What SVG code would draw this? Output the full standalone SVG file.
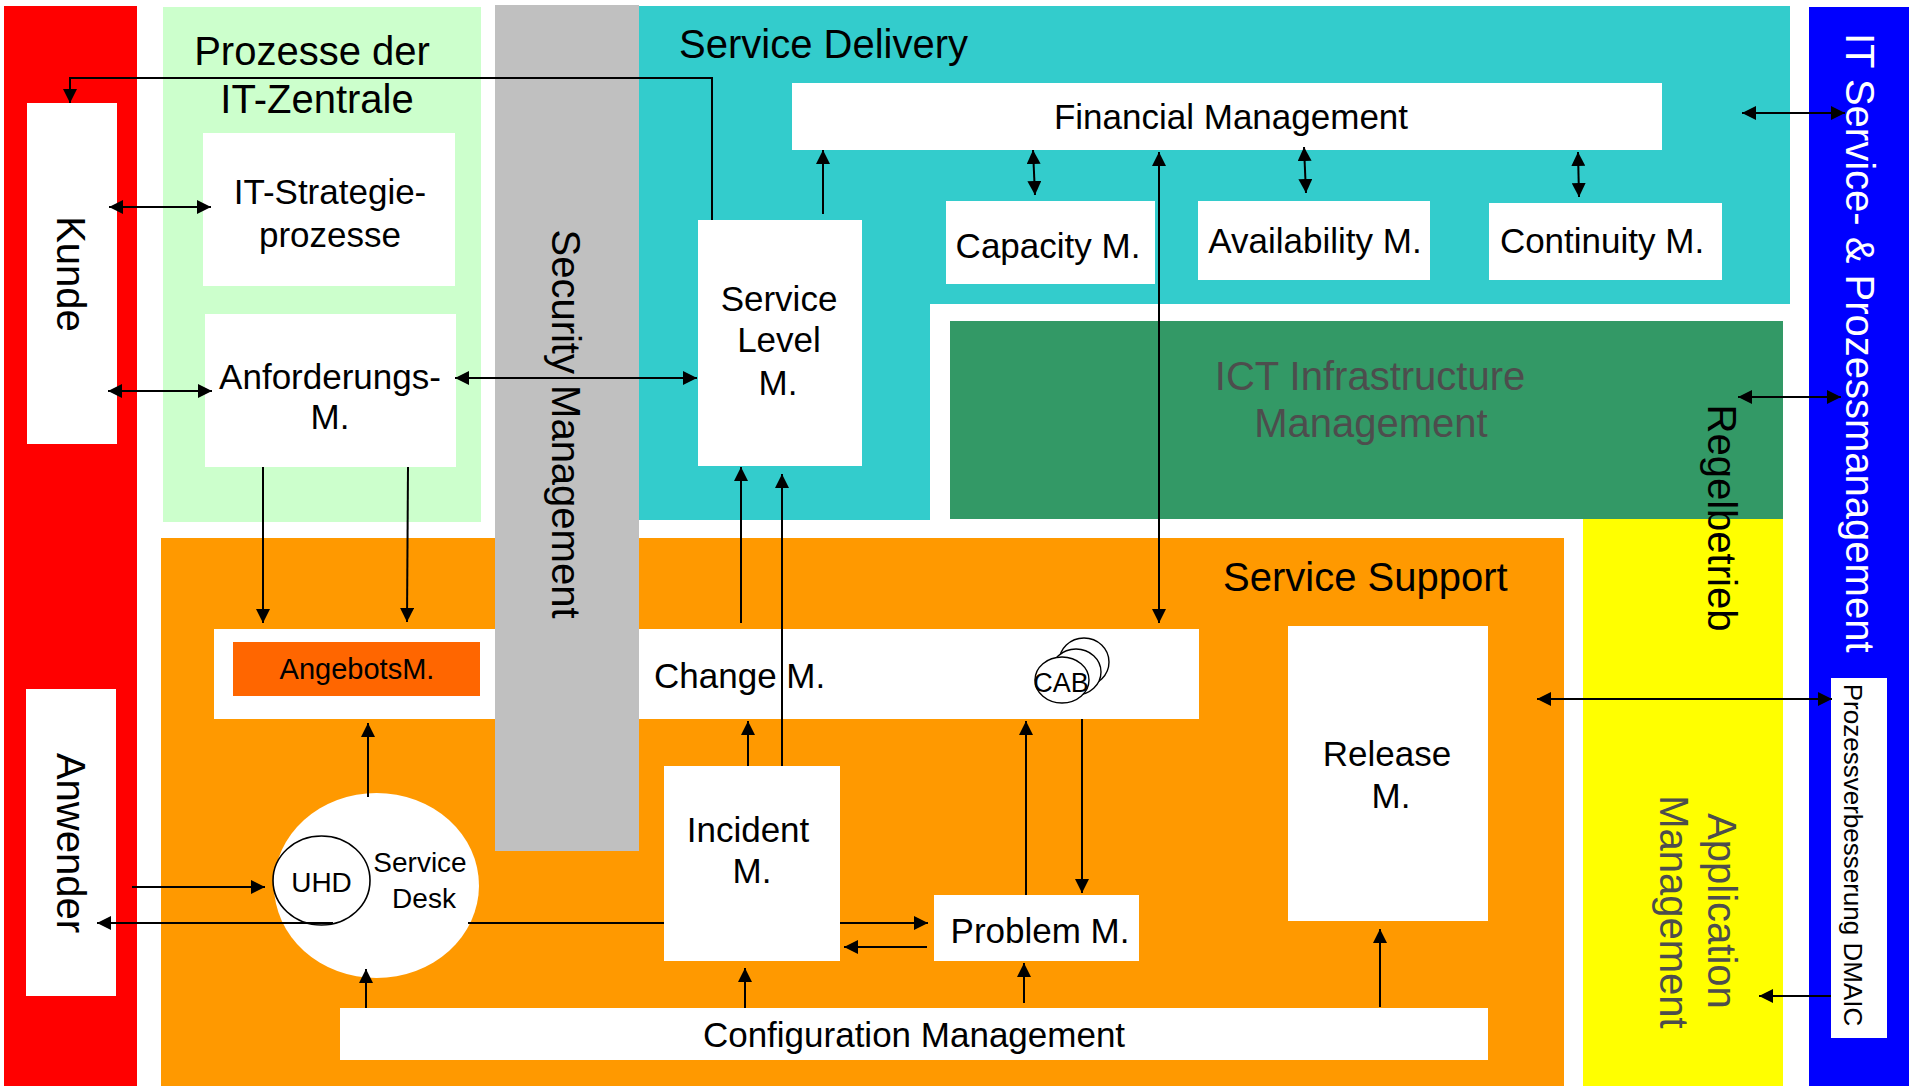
<svg xmlns="http://www.w3.org/2000/svg" width="1909" height="1086" viewBox="0 0 1909 1086">
<style>
text{font-family:"Liberation Sans",Arial,sans-serif;fill:#000}
.h{font-size:40px}
.n{font-size:35px}
.m{text-anchor:middle}
.w{fill:#fff}
.g{fill:#4D4D4D}
.box{fill:#fff}
.c line,.c polyline{stroke:#000;stroke-width:2;fill:none}
.e{marker-end:url(#ah)}
.b{marker-start:url(#ah);marker-end:url(#ah)}
.ring{fill:#fff;stroke:#000;stroke-width:1.4}
</style>
<defs>
<marker id="ah" viewBox="0 0 14 14" refX="14" refY="7" markerWidth="14" markerHeight="14" markerUnits="userSpaceOnUse" orient="auto-start-reverse"><path d="M0,0 L14,7 L0,14 z" fill="#000"/></marker>
</defs>
<rect width="1909" height="1086" fill="#fff"/>
<g id="panel-red"><rect x="4" y="6" width="133" height="1080" fill="#FF0000"/></g>
<g id="panel-it-zentrale"><rect x="163" y="7" width="318" height="515" fill="#CCFFCC"/>
<text class="h m" x="312" y="65">Prozesse der</text><text class="h m" x="317" y="113">IT-Zentrale</text></g>
<g id="panel-service-delivery"><polygon points="639,6 1790,6 1790,304 930,304 930,520 639,520" fill="#33CCCC"/>
<text class="h" x="679" y="58">Service Delivery</text></g>
<g id="panel-service-support"><rect x="161" y="538" width="1403" height="548" fill="#FF9900"/>
<text class="h" x="1223" y="591">Service Support</text></g>
<g id="panel-ict"><rect x="950" y="321" width="833" height="198" fill="#339966"/>
<text class="h m g" x="1370" y="390">ICT Infrastructure</text><text class="h m g" x="1371" y="437">Management</text></g>
<g id="panel-application"><rect x="1583" y="519" width="200" height="567" fill="#FFFF00"/>
<text class="h m g" transform="rotate(90 1708 911)" x="1708" y="911">Application</text>
<text class="h m g" transform="rotate(90 1660 912)" x="1660" y="912">Management</text></g>
<g id="label-regelbetrieb"><text class="h m" transform="rotate(90 1708 518)" x="1708" y="518">Regelbetrieb</text></g>
<g id="panel-itsm"><rect x="1809" y="7" width="100" height="1079" fill="#0000FF"/>
<text class="h w" transform="rotate(90 1846 33)" x="1846" y="33">IT Service- &amp; Prozessmanagement</text></g>
<g id="node-kunde"><rect class="box" x="27" y="103" width="90" height="341"/>
<text class="h m" transform="rotate(90 57 274)" x="57" y="274">Kunde</text></g>
<g id="node-anwender"><rect class="box" x="26" y="689" width="90" height="307"/>
<text class="h m" transform="rotate(90 57 843)" x="57" y="843">Anwender</text></g>
<g id="node-it-strategie"><rect class="box" x="203" y="133" width="252" height="153"/>
<text class="n m" x="330" y="204">IT-Strategie-</text><text class="n m" x="330" y="247">prozesse</text></g>
<g id="node-anforderungs"><rect class="box" x="205" y="314" width="251" height="153"/>
<text class="n m" x="330" y="389">Anforderungs-</text><text class="n m" x="330" y="429">M.</text></g>
<g id="node-financial"><rect class="box" x="792" y="83" width="870" height="67"/>
<text class="n m" x="1231" y="129">Financial Management</text></g>
<g id="node-service-level"><rect class="box" x="698" y="220" width="164" height="246"/>
<text class="n m" x="779" y="311">Service</text><text class="n m" x="779" y="352">Level</text><text class="n m" x="778" y="395">M.</text></g>
<g id="node-capacity"><rect class="box" x="946" y="201" width="209" height="83"/>
<text class="n m" x="1048" y="258">Capacity M.</text></g>
<g id="node-availability"><rect class="box" x="1198" y="201" width="232" height="79"/>
<text class="n m" x="1315" y="253">Availability M.</text></g>
<g id="node-continuity"><rect class="box" x="1489" y="203" width="233" height="77"/>
<text class="n m" x="1602" y="253">Continuity M.</text></g>
<g id="node-change"><rect class="box" x="214" y="629" width="985" height="90"/>
<text class="n" x="654" y="688">Change M.</text>
<ellipse class="ring" cx="1084" cy="662" rx="25" ry="24"/>
<ellipse class="ring" cx="1076" cy="672" rx="25" ry="23"/>
<ellipse class="ring" cx="1062" cy="680" rx="27" ry="23"/>
<text class="m" style="font-size:27px" x="1061" y="692">CAB</text></g>
<g id="node-angebots"><rect x="233" y="642" width="247" height="54" fill="#FF6600"/>
<text class="m" style="font-size:29px" x="357" y="679">AngebotsM.</text></g>
<g id="panel-security"><rect x="495" y="5" width="144" height="846" fill="#C0C0C0"/>
<text class="h m" transform="rotate(90 552 424)" x="552" y="424">Security Management</text></g>
<g id="node-service-desk"><ellipse cx="376.5" cy="885.5" rx="102.5" ry="92.5" fill="#fff"/>
<ellipse cx="321.5" cy="880.5" rx="48.5" ry="44.5" fill="#fff" stroke="#000" stroke-width="1.6"/>
<text class="m" style="font-size:28px" x="321.5" y="892">UHD</text>
<text class="m" style="font-size:28px" x="420" y="872">Service</text>
<text class="m" style="font-size:28px" x="424" y="908">Desk</text></g>
<g id="node-incident"><rect class="box" x="664" y="766" width="176" height="195"/>
<text class="n m" x="748" y="842">Incident</text><text class="n m" x="752" y="883">M.</text></g>
<g id="node-problem"><rect class="box" x="934" y="895" width="205" height="66"/>
<text class="n m" x="1040" y="943">Problem M.</text></g>
<g id="node-release"><rect class="box" x="1288" y="626" width="200" height="295"/>
<text class="n m" x="1387" y="766">Release</text><text class="n m" x="1391" y="808">M.</text></g>
<g id="node-configuration"><rect class="box" x="340" y="1008" width="1148" height="52"/>
<text class="n m" x="914" y="1047">Configuration Management</text></g>
<g id="node-dmaic"><rect class="box" x="1831" y="678" width="56" height="360"/>
<text class="m" style="font-size:26px" transform="rotate(90 1844 855)" x="1844" y="855">Prozessverbesserung DMAIC</text></g>
<g id="connectors" class="c">
<line class="b" x1="109" y1="207" x2="211" y2="207"/>
<line class="b" x1="108" y1="391" x2="212" y2="391"/>
<line class="b" x1="455" y1="378" x2="697" y2="378"/>
<polyline class="e" points="712,220 712,78 70,78 70,103"/>
<line class="e" x1="823" y1="214" x2="823" y2="150"/>
<line class="b" x1="1033" y1="150" x2="1035" y2="195"/>
<line class="b" x1="1304" y1="147" x2="1306" y2="193"/>
<line class="b" x1="1578" y1="152" x2="1579" y2="197"/>
<line class="b" x1="1742" y1="113" x2="1845" y2="113"/>
<line class="b" x1="1159" y1="152" x2="1159" y2="623"/>
<line class="b" x1="1738" y1="397" x2="1841" y2="397"/>
<line class="e" x1="263" y1="467" x2="263" y2="623"/>
<line class="e" x1="408" y1="467" x2="407" y2="622"/>
<line class="e" x1="741" y1="623" x2="741" y2="467"/>
<line class="e" x1="782" y1="766" x2="782" y2="474"/>
<line class="e" x1="748" y1="766" x2="748" y2="721"/>
<line class="e" x1="368" y1="797" x2="368" y2="723"/>
<line class="e" x1="132" y1="887" x2="265" y2="887"/>
<line class="e" x1="333" y1="923" x2="97" y2="923"/>
<line x1="664" y1="923" x2="468" y2="923"/>
<line class="e" x1="366" y1="1008" x2="366" y2="969"/>
<line class="e" x1="745" y1="1008" x2="745" y2="968"/>
<line class="e" x1="1024" y1="1003" x2="1024" y2="963"/>
<line class="e" x1="1380" y1="1007" x2="1380" y2="929"/>
<line class="e" x1="840" y1="923" x2="928" y2="923"/>
<line class="e" x1="927" y1="947" x2="844" y2="947"/>
<line class="e" x1="1026" y1="895" x2="1026" y2="721"/>
<line class="e" x1="1082" y1="719" x2="1082" y2="893"/>
<line class="b" x1="1537" y1="699" x2="1832" y2="699"/>
<line class="e" x1="1831" y1="996" x2="1759" y2="996"/>
</g>
</svg>
